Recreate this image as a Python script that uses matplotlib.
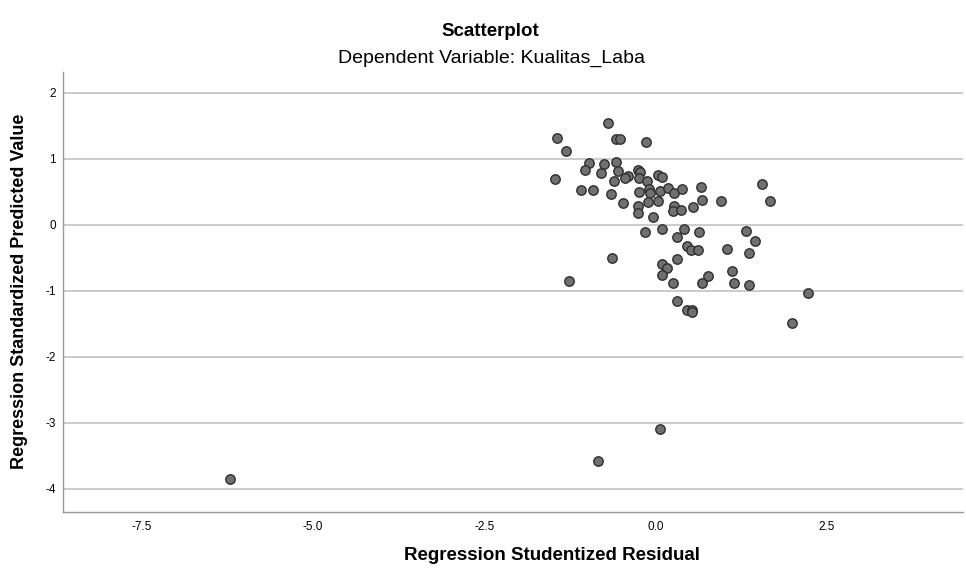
import matplotlib
matplotlib.use("Agg")
import matplotlib.pyplot as plt

plt.rcParams['font.family'] = ['Liberation Sans', 'DejaVu Sans']

# Regression Studentized Residual (x) and Regression Standardized Predicted Value (y)
resid = [-0.69, -1.44, -0.58, -0.52, -0.14, -1.30, -0.97, -0.75, -0.58, -1.03,
         -0.80, -0.55, -0.25, -0.23, -0.40, -0.45, -0.61, -0.24, -0.12, 0.03,
         0.09, -1.47, -1.09, -0.91, -0.65, -0.24, -0.09, -0.08, 0.06, 0.18,
         0.27, 0.39, 0.67, 1.56, -0.48, -0.25, -0.26, -0.11, 0.03, 0.27,
         0.25, 0.37, 0.55, 0.68, 0.95, 1.67, -0.03, -0.16, 0.10, 0.42,
         0.635, 1.32, 0.31, 1.46, 0.46, 0.52, 0.62, 1.04, 1.365, -0.63,
         0.32, 0.10, 0.17, 0.09, 0.76, 1.12, -1.26, 0.26, 0.68, 1.15,
         1.365, 2.22, 0.31, 0.455, 0.53, 0.54, 2.00, 0.07, -0.84, -6.21]
pred = [1.545, 1.32, 1.30, 1.30, 1.26, 1.12, 0.93, 0.92, 0.945, 0.83,
        0.78, 0.81, 0.83, 0.80, 0.74, 0.71, 0.66, 0.70, 0.66, 0.75,
        0.72, 0.69, 0.53, 0.53, 0.46, 0.50, 0.54, 0.475, 0.515, 0.56,
        0.485, 0.54, 0.57, 0.62, 0.33, 0.28, 0.17, 0.35, 0.36, 0.28,
        0.21, 0.22, 0.27, 0.37, 0.36, 0.36, 0.11, -0.11, -0.07, -0.065,
        -0.11, -0.09, -0.18, -0.24, -0.32, -0.39, -0.39, -0.37, -0.43, -0.51,
        -0.52, -0.60, -0.66, -0.76, -0.77, -0.70, -0.85, -0.88, -0.89, -0.88,
        -0.91, -1.04, -1.16, -1.29, -1.29, -1.33, -1.49, -3.10, -3.58, -3.86]

xticks = [-7.5, -5.0, -2.5, 0.0, 2.5]
xticklabels = ['-7.5', '-5.0', '-2.5', '0.0', '2.5']
yticks = [2, 1, 0, -1, -2, -3, -4]
yticklabels = ['2', '1', '0', '-1', '-2', '-3', '-4']

W, H = 966, 569
fig = plt.figure(figsize=(W / 100, H / 100), dpi=100)
ax = fig.add_axes([63 / W, 1 - 511.7 / H, 900 / W, 440 / H])

ax.scatter(resid, pred, s=46, facecolor='#707070', edgecolor='#2e2e2e',
           linewidth=1.0, zorder=3)

ax.set_xlim(-8.65, 4.49)
ax.set_ylim(-4.348, 2.318)
ax.set_xticks(xticks)
ax.set_xticklabels(xticklabels)
ax.set_yticks(yticks)
ax.set_yticklabels(yticklabels)
ax.tick_params(axis='both', length=0, labelsize=8.5, colors='#000000')
ax.tick_params(axis='x', pad=7)
ax.tick_params(axis='y', pad=5)

ax.yaxis.grid(True, color='#cccccc', linewidth=1.4)
ax.xaxis.grid(False)
ax.set_axisbelow(True)

for side in ['top', 'right']:
    ax.spines[side].set_visible(False)
for side in ['left', 'bottom']:
    ax.spines[side].set_color('#999999')
    ax.spines[side].set_linewidth(1.0)

fig.text(552 / W, 1 - 556 / H, 'Regression Studentized Residual', ha='center',
         va='center', fontsize=13.5, fontweight='bold')
fig.text(20 / W, 1 - 291 / H, 'Regression Standardized Predicted Value',
         ha='center', va='center', rotation=90, fontsize=13, fontweight='bold')

fig.text(490 / W, 1 - 31 / H, 'Scatterplot', ha='center', va='center',
         fontsize=13.5, fontweight='bold')
fig.text(491 / W, 1 - 58 / H, 'Dependent Variable: Kualitas_Laba', ha='center',
         va='center', fontsize=14)

fig.savefig('out.png', dpi=100)
